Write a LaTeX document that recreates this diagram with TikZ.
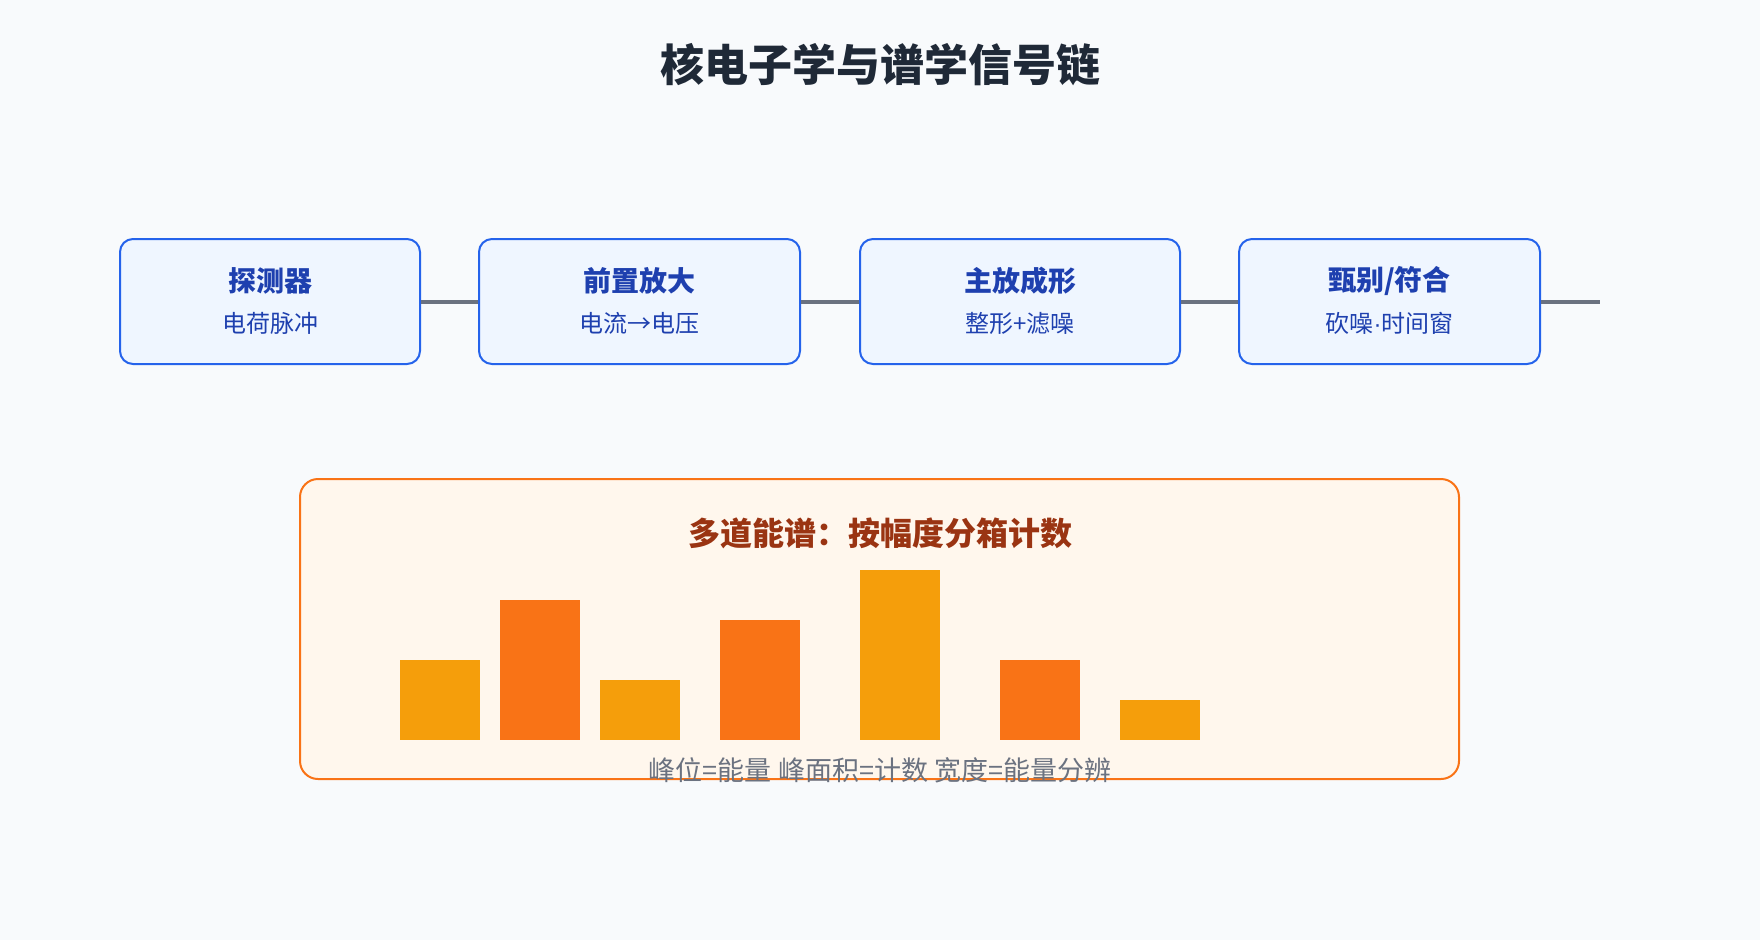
\documentclass[tikz,border=0pt]{standalone}
\usepackage{fontspec}
\setmainfont{Noto Sans CJK SC}
\newfontfamily\latinfont{Liberation Sans}
\usepackage{tikz}
\usetikzlibrary{arrows.meta}

\definecolor{bgcol}{HTML}{F8FAFC}
\definecolor{titlecol}{HTML}{1F2937}
\definecolor{blkline}{HTML}{2563EB}
\definecolor{blkfill}{HTML}{EFF6FF}
\definecolor{blktext}{HTML}{1E40AF}
\definecolor{wirecol}{HTML}{6B7280}
\definecolor{panline}{HTML}{F97316}
\definecolor{panfill}{HTML}{FFF7ED}
\definecolor{pantext}{HTML}{9A3412}
\definecolor{amberbar}{HTML}{F59E0B}
\definecolor{orangebar}{HTML}{F97316}

\begin{document}
\begin{tikzpicture}[x=1pt,y=-1pt,
	blk/.style={draw=blkline,fill=blkfill,line width=2pt,rounded corners=13pt,minimum width=#1,minimum height=125pt,inner sep=0pt},
	blkhead/.style={text=blktext,font=\fontsize{28}{32}\selectfont\bfseries},
	blksub/.style={text=blktext,font=\fontsize{24}{28}\selectfont},
	wire/.style={draw=wirecol,line width=4pt}]
	\fill[bgcol] (0,0) rectangle (1760,940);
	\draw (880,65) node (title) [text=titlecol,font=\fontsize{44}{52}\selectfont\bfseries] {核电子学与谱学信号链};
	% signal chain
	\draw (270,301.5) node(det) [blk=300pt] {};
	\node (dett) [blkhead] at (270,281) {探测器};
	\node (dets) [blksub] at (270,323) {电荷脉冲};
	\draw (639.5,301.5) node(pre) [blk=321pt] {};
	\node (pret) [blkhead] at (639.5,281) {前置放大};
	\node (pres) [blksub] at (639.5,323) {电流→电压};
	\draw (1020,301.5) node(shp) [blk=320pt] {};
	\node (shpt) [blkhead] at (1020,281) {主放成形};
	\node (shps) [blksub] at (1020,323) {整形+滤噪};
	\draw (1389.5,301.5) node(disc) [blk=301pt] {};
	\node (disct) [blkhead] at (1389.5,281) {甄别/符合};
	\node (discs) [blksub] at (1389.5,323) {砍噪{\latinfont ·}时间窗};
	\coordinate (out) at (1600,301.5);
	\draw[wire] (det.east) -- (pre.west);
	\draw[wire] (pre.east) -- (shp.west);
	\draw[wire] (shp.east) -- (disc.west);
	\draw[wire] (disc.east) -- (out);
	% multichannel spectrum
	\draw (879.5,629) node(mca) [draw=panline,fill=panfill,line width=2pt,rounded corners=18pt,minimum width=1159pt,minimum height=300pt] {};
	\node (mcat) [text=pantext,font=\fontsize{32}{38}\selectfont\bfseries] at (880,533) {多道能谱：按幅度分箱计数};
	\fill[amberbar] (400,660) rectangle (480,740);
	\fill[orangebar] (500,600) rectangle (580,740);
	\fill[amberbar] (600,680) rectangle (680,740);
	\fill[orangebar] (720,620) rectangle (800,740);
	\fill[amberbar] (860,570) rectangle (940,740);
	\fill[orangebar] (1000,660) rectangle (1080,740);
	\fill[amberbar] (1120,700) rectangle (1200,740);
	\node (mcac) [text=wirecol,font=\fontsize{27}{32}\selectfont] at (880,770) {峰位=能量 峰面积=计数 宽度=能量分辨};
\end{tikzpicture}
\end{document}
